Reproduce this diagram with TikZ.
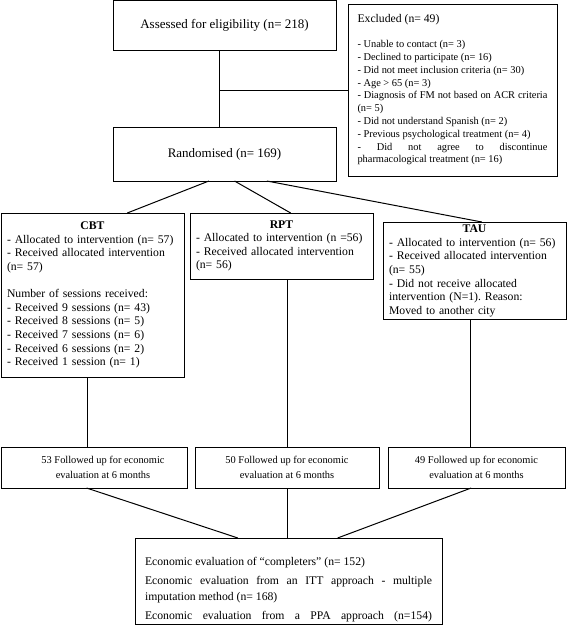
\documentclass[tikz,border=0pt]{standalone}
\usepackage{fontspec}
\setmainfont{Liberation Serif}
\usetikzlibrary{calc}
\setlength\parindent{0pt}
\tolerance=9999
\hbadness=10000
\hyphenpenalty=10000
\exhyphenpenalty=10000
\frenchspacing
\begin{document}
\begin{tikzpicture}[x=1pt,y=-1pt,
  box/.style={draw, line width=1pt, inner ysep=3pt, outer sep=0pt, anchor=north west},
  conn/.style={line width=1pt},
  txt/.style={font=\fontsize{11.7}{13.6}\selectfont},
  small/.style={font=\fontsize{10.4}{12.8}\selectfont},
  big/.style={font=\fontsize{13}{16}\selectfont},
  fup/.style={font=\fontsize{10.4}{15.5}\selectfont}]
\useasboundingbox (0,0) rectangle (567,630);

\node[box, big, minimum width=223, minimum height=50] (assess) at (113,0.5) {Assessed for eligibility (n= 218)};

\node[box, small, minimum width=209, minimum height=172, text width=190, inner xsep=9.5, align=justify] (excl) at (348,4) {{\fontsize{11.7}{14}\selectfont Excluded (n= 49)\par}\vspace{12pt}
- Unable to contact (n= 3)\par
- Declined to participate (n= 16)\par
- Did not meet inclusion criteria (n= 30)\par
- Age > 65 (n= 3)\par
- Diagnosis of FM not based on ACR criteria (n= 5)\par
- Did not understand Spanish (n= 2)\par
- Previous psychological treatment (n= 4)\par
- Did not agree to discontinue pharmacological treatment (n= 16)};

\node[box, big, minimum width=223, minimum height=54] (rand) at (113,127) {Randomised (n= 169)};

\node[box, txt, minimum height=164, text width=171, inner xsep=6, align=left] (cbt) at (1,213) {\makebox[\linewidth]{\textbf{CBT}}\\
- Allocated to intervention (n= 57)\\
- Received allocated intervention\\
(n= 57)\\[13.6pt]
Number of sessions received:\\
- Received 9 sessions (n= 43)\\
- Received 8 sessions (n= 5)\\
- Received 7 sessions (n= 6)\\
- Received 6 sessions (n= 2)\\
- Received 1 session (n= 1)};

\node[box, txt, minimum height=66, text width=171, inner xsep=6, align=left] (rpt) at (190,213) {\makebox[\linewidth]{\textbf{RPT}}\\
- Allocated to intervention (n =56)\\
- Received allocated intervention\\
(n= 56)};

\node[box, txt, minimum height=96, text width=171, inner xsep=6, align=left] (tau) at (383,222) {\makebox[\linewidth]{\textbf{TAU}}\\
- Allocated to intervention (n= 56)\\
- Received allocated intervention\\
(n= 55)\\
- Did not receive allocated\\
intervention (N=1). Reason:\\
Moved to another city};

\node[box, fup, minimum width=186, minimum height=41, align=center] (f1) at (1,447) {\hspace*{18pt}53 Followed up for economic\\\hspace*{18pt}evaluation at 6 months};
\node[box, fup, minimum width=184, minimum height=41, align=center] (f2) at (195,447) {50 Followed up for economic\\evaluation at 6 months};
\node[box, fup, minimum width=177, minimum height=41, align=center] (f3) at (388,447) {49 Followed up for economic\\evaluation at 6 months};

\node[box, text width=287, inner xsep=10, inner ysep=3, align=justify, font=\fontsize{11.7}{16.5}\selectfont] (fin) at (135,538) {\rule{0pt}{24pt}Economic evaluation of “completers” (n= 152)\par\vspace{2.5pt}
Economic evaluation from an ITT approach - multiple imputation method (n= 168)\par\vspace{2.5pt}
{\parfillskip=0pt Economic evaluation from a PPA approach (n=154)\par}};

% connectors
\coordinate (j) at (219,90);
\draw[conn] (assess.south -| j) -- (rand.north -| j);
\draw[conn] (j) -- (excl.west |- j);

\draw[conn] ($(rand.south west)!0.43!(rand.south east)$) -- ($(cbt.north west)!0.69!(cbt.north east)$);
\draw[conn] ($(rand.south west)!0.545!(rand.south east)$) -- ($(rpt.north west)!0.55!(rpt.north east)$);
\draw[conn] ($(rand.south west)!0.69!(rand.south east)$) -- ($(tau.north west)!0.54!(tau.north east)$);

\draw[conn] ($(cbt.south west)!0.475!(cbt.south east)$) coordinate (c1) -- (f1.north -| c1);
\draw[conn] ($(f2.north west)!0.5!(f2.north east)$) coordinate (c2) -- (rpt.south -| c2);
\draw[conn] ($(tau.south west)!0.48!(tau.south east)$) coordinate (c3) -- (f3.north -| c3);

\draw[conn] ($(f1.south west)!0.46!(f1.south east)$) -- ($(fin.north west)!0.335!(fin.north east)$);
\draw[conn] (f2.south) -- (fin.north -| f2.south);
\draw[conn] ($(f3.south west)!0.47!(f3.south east)$) -- ($(fin.north west)!0.66!(fin.north east)$);
\end{tikzpicture}
\end{document}
